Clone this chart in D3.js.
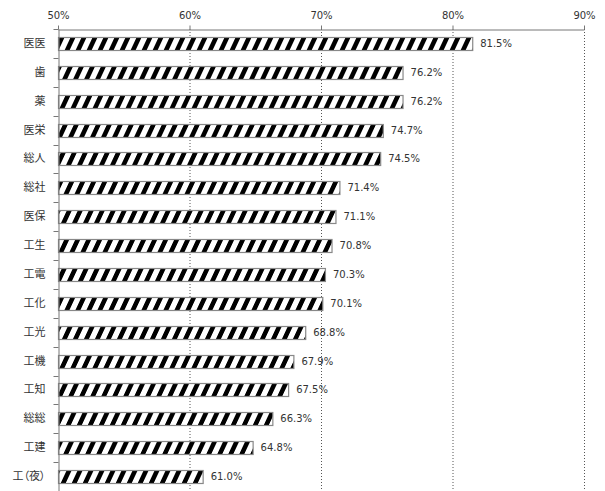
<!DOCTYPE html>
<html><head><meta charset="utf-8">
<script src="https://cdn.jsdelivr.net/npm/d3@7"></script>
<style>body{margin:0;background:#fff}svg{display:block}</style>
</head><body>
<svg id="c" width="605" height="491"></svg>
<script>
const categories = ["医医","歯","薬","医栄","総人","総社","医保","工生","工電","工化","工光","工機","工知","総総","工建","工（夜）"];
const values = [81.5,76.2,76.2,74.7,74.5,71.4,71.1,70.8,70.3,70.1,68.8,67.9,67.5,66.3,64.8,61.0];
const ticks = [50,60,70,80,90];

(function(){
const svg = d3.select("#c");
const mLeft = 58, mRight = 584, mTop = 29, mBottom = 491;
const x = d3.scaleLinear().domain([50,90]).range([mLeft,mRight]);
const y = d3.scaleBand().domain(categories).range([mTop,mBottom]).paddingInner(0.55).paddingOuter(0.275);

const defs = svg.append("defs");
const pat = defs.append("pattern").attr("id","stripe").attr("patternUnits","userSpaceOnUse")
  .attr("width",11).attr("height",40).attr("patternTransform","skewX(-25)");
pat.append("rect").attr("width",11).attr("height",40).attr("fill","#fff");
pat.append("rect").attr("x",0).attr("width",5).attr("height",40).attr("fill","#000");

const cjk = "'Noto Sans CJK JP',sans-serif";
const num = "'DejaVu Sans',sans-serif";

// grid
svg.append("g").selectAll("line").data(ticks.slice(1)).join("line")
  .attr("x1",d=>x(d)+0.5).attr("x2",d=>x(d)+0.5).attr("y1",mTop).attr("y2",mBottom)
  .attr("stroke","#555").attr("stroke-dasharray","1,2").attr("stroke-width",1);

// top axis
const xa = svg.append("g").attr("transform",`translate(0,${mTop+0.5})`)
  .call(d3.axisTop(x).tickValues(ticks).tickFormat(d=>d+"%").tickSize(4).tickSizeOuter(0));
xa.select(".domain").attr("stroke","#777");
xa.selectAll(".tick line").attr("stroke","#777");
xa.selectAll("text").attr("font-family",num).attr("font-size",10).attr("fill","#333").attr("dy","-0.35em");

// bars
svg.append("g").selectAll("rect").data(values).join("rect")
  .attr("x",x(50)+0.5).attr("y",(d,i)=>Math.round(y(categories[i]))+0.5)
  .attr("width",d=>x(d)-x(50)).attr("height",y.bandwidth())
  .attr("fill","url(#stripe)").attr("stroke","#888").attr("stroke-width",1.2);

// value labels
svg.append("g").selectAll("text").data(values).join("text")
  .attr("x",d=>x(d)+8).attr("y",(d,i)=>y(categories[i])+y.bandwidth()/2)
  .attr("dy","0.35em").attr("font-family",num).attr("font-size",10).attr("fill","#333")
  .text(d=>d.toFixed(1)+"%");

// left axis
const ya = svg.append("g").attr("transform",`translate(${mLeft+0.5},0)`)
  .call(d3.axisLeft(y).tickSize(0).tickPadding(13));
ya.select(".domain").attr("stroke","#777");
ya.selectAll("text").attr("font-family",cjk).attr("font-size",11).attr("fill","#333")
  .style("font-feature-settings","'palt' 1");
const step = y.step();
const bounds = d3.range(categories.length).map(i=>mTop + i*step);
ya.append("g").selectAll("line").data(bounds).join("line")
  .attr("x1",-5).attr("x2",0).attr("y1",d=>Math.round(d)+0.5).attr("y2",d=>Math.round(d)+0.5)
  .attr("stroke","#777");
})();
</script>
</body></html>
